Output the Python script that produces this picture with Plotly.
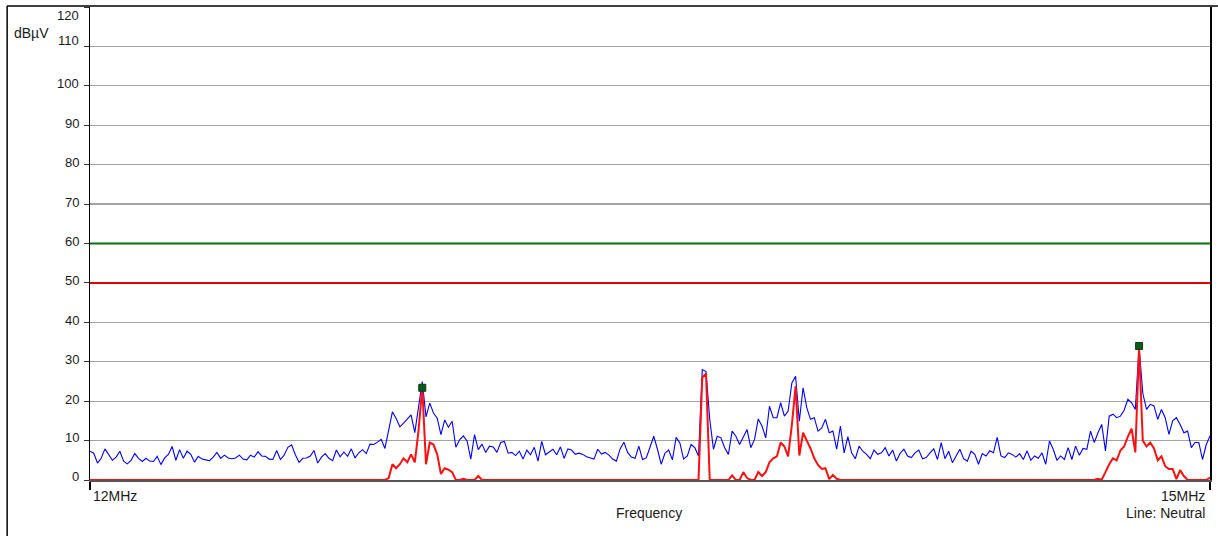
import numpy as np
import plotly.graph_objects as go

# ---------------- data ----------------
f_start_mhz = 12.0
f_stop_mhz = 15.0
n_points = 301

# Peak (blue) trace, dBuV
peak_a = [7.3, 6.8, 4.3, 5.5, 7.9, 6.5, 5.0, 5.8, 7.3, 4.8,
          4.1, 5.0, 6.7, 5.5, 4.7, 5.5, 4.8, 4.7, 6.0, 3.9,
          5.6, 6.5, 8.5, 5.0, 7.7, 5.5, 7.3, 6.5, 4.5, 6.0,
          5.3, 5.1, 4.9, 5.8, 7.0, 5.5, 6.3, 5.6, 5.4, 5.6,
          6.3, 5.3, 5.1, 6.3, 5.8, 7.2, 6.1, 6.0, 5.3, 5.2,
          7.5, 5.2, 6.3, 8.3, 8.9, 6.4, 4.5, 5.5, 5.6, 6.1,
          7.5, 4.3, 5.8, 6.7, 5.5, 4.9, 7.6, 5.9, 7.1, 6.0,
          7.9, 5.6, 6.9, 7.7, 6.7, 9.1, 9.0, 9.6, 10.3, 8.0]
peak_b = [13.0, 17.3, 15.6, 13.5, 14.4, 15.4, 16.5, 12.0, 19.0, 25.0,
          16.0, 19.5, 17.0, 15.7, 11.5, 15.2, 13.4, 14.9, 8.3, 10.2,
          11.2, 9.9, 5.3, 11.5, 7.7, 9.1, 7.0, 8.6, 8.4, 7.0,
          9.5, 9.8, 6.8, 7.0, 6.2, 7.3, 5.3, 7.6, 6.4, 8.3,
          4.8, 9.8, 6.4, 7.0, 7.8, 6.4, 8.4, 5.5, 7.9, 7.6,
          6.5, 6.8, 6.5, 5.9, 5.6, 5.3, 7.8, 6.6, 7.0, 6.3,
          5.3, 4.8, 7.9, 9.6, 7.0, 5.8, 5.5, 8.6, 5.2, 5.6,
          8.3, 11.1, 7.8, 4.0, 6.8, 7.6, 5.1, 10.8, 9.4, 5.3]
peak_c = [6.1, 9.0, 8.2, 6.1, 28.0, 27.5, 15.4, 7.8, 11.1, 10.7,
          8.2, 6.5, 12.4, 11.1, 9.0, 10.7, 12.8, 8.2, 10.3, 15.5,
          13.7, 10.7, 18.7, 15.8, 15.8, 19.6, 16.2, 17.5, 24.6, 26.3,
          14.9, 23.4, 18.3, 15.4, 15.8, 12.4, 13.2, 15.4, 12.0, 12.4,
          7.8, 13.7, 6.9, 11.0, 6.9, 5.4, 8.6, 7.3, 6.5, 5.4,
          7.6, 6.5, 6.9, 8.2, 6.1, 7.6, 4.8, 6.8, 7.8, 6.1,
          5.7, 6.9, 7.6, 5.4, 5.7, 6.9, 7.9, 5.2, 9.5, 5.4,
          7.3, 4.4, 6.1, 7.8, 5.4, 4.8, 7.3, 6.5]
peak_d = [4.0, 6.7, 6.1, 7.4, 6.9, 10.8, 6.1, 5.7, 6.9, 6.5,
          5.8, 6.7, 5.2, 7.4, 5.0, 6.1, 5.5, 6.9, 4.0, 9.9,
          7.8, 5.0, 6.1, 5.2, 8.2, 5.2, 8.6, 6.3, 8.0, 7.8,
          12.4, 9.5, 12.0, 14.1, 7.4, 16.2, 16.7, 15.8, 16.2, 17.7,
          20.5, 19.6, 17.9, 33.8, 22.0, 17.9, 19.2, 18.8, 15.4, 17.9,
          15.8, 11.6, 15.0, 15.8, 14.1, 12.0, 12.4, 8.2, 9.5, 9.5,
          5.2, 9.0, 11.2]

# Average (red) trace, dBuV
avg_a = [0, 0, 0, 0, 0, 0, 0, 0, 0, 0,
         0, 0, 0, 0, 0, 0, 0, 0, 0, 0,
         0, 0, 0, 0, 0, 0, 0, 0, 0, 0,
         0, 0, 0, 0, 0, 0, 0, 0, 0, 0,
         0, 0, 0, 0, 0, 0, 0, 0, 0, 0,
         0, 0, 0, 0, 0, 0, 0, 0, 0, 0,
         0, 0, 0, 0, 0, 0, 0, 0, 0, 0,
         0, 0, 0, 0, 0, 0, 0, 0, 0, 0]
avg_b = [0.5, 4.0, 3.0, 4.0, 5.5, 4.5, 6.5, 4.5, 12.5, 23.5,
         4.0, 9.5, 9.0, 6.5, 1.5, 3.0, 2.6, 2.0, 0, 0,
         0.3, 0, 0, 0, 1.0, 0, 0, 0, 0, 0,
         0, 0, 0, 0, 0, 0, 0, 0, 0, 0,
         0, 0, 0, 0, 0, 0, 0, 0, 0, 0,
         0, 0, 0, 0, 0, 0, 0, 0, 0, 0,
         0, 0, 0, 0, 0, 0, 0, 0, 0, 0,
         0, 0, 0, 0, 0, 0, 0, 0, 0, 0]
avg_c = [0, 0, 0, 0, 26.0, 27.0, 0, 0, 0, 0,
         0, 0, 1.2, 0, 0, 2.0, 0.5, 0, 0, 2.0,
         1.0, 2.0, 4.5, 5.5, 6.0, 9.5, 8.5, 6.0, 14.0, 23.8,
         6.2, 12.0, 10.0, 8.0, 5.5, 3.8, 2.8, 3.0, 0.2, 1.3,
         0.3, 0, 0, 0, 0, 0, 0, 0, 0, 0,
         0, 0, 0, 0, 0, 0, 0, 0, 0, 0,
         0, 0, 0, 0, 0, 0, 0, 0, 0, 0,
         0, 0, 0, 0, 0, 0, 0, 0]
avg_d = [0, 0, 0, 0, 0, 0, 0, 0, 0, 0,
         0, 0, 0, 0, 0, 0, 0, 0, 0, 0,
         0, 0, 0, 0, 0, 0, 0, 0, 0, 0,
         0, 0, 0.3, 0.1, 2.0, 4.0, 5.5, 5.0, 7.5, 8.5,
         11.0, 13.0, 7.0, 33.5, 10.0, 8.5, 9.5, 8.0, 5.0, 6.0,
         3.5, 2.8, 2.8, 0.2, 2.5, 1.0, 0, 0, 0, 0,
         0, 0, 0.6]

# limit lines
limit_freq = [12.0, 15.0]
qp_limit = [60, 60]
avg_limit = [50, 50]

# peak markers
marker_freq = [12.89, 14.81]
marker_level = [23.4, 34.0]

y_ticks = [0, 10, 20, 30, 40, 50, 60, 70, 80, 90, 100, 110, 120]
y_tick_labels = ["0", "10", "20", "30", "40", "50", "60", "70", "80", "90",
                 "100", "110", "120"]

# ---------------- figure ----------------
peak = peak_a + peak_b + peak_c + peak_d
avg = avg_a + avg_b + avg_c + avg_d
freq = np.linspace(f_start_mhz, f_stop_mhz, n_points)

W, H = 1218, 536
L, R, T, B = 90, 1212, 7, 480


def px(x):
    return (x - L) / (R - L)


def py(y):
    return (B - y) / (B - T)


FONT = "Liberation Sans, Arial, Helvetica, sans-serif"
TXT = "#1a1a1a"

fig = go.Figure()
fig.add_trace(go.Scatter(x=freq, y=peak, mode="lines",
                         line=dict(color="#0000ff", width=1.1), hoverinfo="skip"))
fig.add_trace(go.Scatter(x=freq, y=avg, mode="lines",
                         line=dict(color="#ff1010", width=2), hoverinfo="skip"))
fig.add_trace(go.Scatter(x=limit_freq, y=qp_limit, mode="lines",
                         line=dict(color="#0b6e0b", width=2), hoverinfo="skip"))
fig.add_trace(go.Scatter(x=limit_freq, y=avg_limit, mode="lines",
                         line=dict(color="#e00000", width=2), hoverinfo="skip"))
fig.add_trace(go.Scatter(x=marker_freq, y=marker_level, mode="markers",
                         marker=dict(symbol="square", size=7, color="#0a5a1a",
                                     line=dict(color="#083d12", width=1)),
                         hoverinfo="skip"))

fig.update_layout(
    width=W, height=H,
    margin=dict(l=L, r=W - R, t=T, b=H - B),
    paper_bgcolor="white", plot_bgcolor="white",
    showlegend=False,
    font=dict(family=FONT, size=14, color=TXT),
)
fig.update_xaxes(
    range=[f_start_mhz, f_stop_mhz],
    showgrid=False, zeroline=False,
    showline=True, linecolor="#555555", linewidth=2,
    tickvals=[f_start_mhz, f_stop_mhz], ticks="outside", ticklen=8,
    tickcolor="#000000", tickwidth=1.5, showticklabels=False,
)
fig.update_yaxes(
    range=[0, 120],
    tickvals=y_ticks, ticks="outside", ticklen=5, tickcolor="#333333",
    tickwidth=1, showticklabels=False,
    showgrid=True, gridcolor="#a3a3a3", gridwidth=1.3,
    zeroline=False, showline=True, linecolor="#000000", linewidth=1.5,
    mirror=True,
)

# y tick labels placed like the reference (slightly above the grid lines)
label_shift = {0: 4, 10: 3, 110: 6, 120: -8}
for v, lab in zip(y_ticks, y_tick_labels):
    fig.add_annotation(xref="paper", yref="y", x=px(81), y=v, text=lab,
                       showarrow=False, xanchor="right", yanchor="middle",
                       yshift=label_shift.get(v, 2),
                       font=dict(family=FONT, size=13, color=TXT))

# outer frame (left and top)
fig.add_shape(type="line", xref="paper", yref="paper",
              x0=px(7), x1=px(7), y0=py(6), y1=py(540),
              line=dict(color="#000000", width=1.5))
fig.add_shape(type="line", xref="paper", yref="paper",
              x0=px(7), x1=px(1220), y0=py(6), y1=py(6),
              line=dict(color="#000000", width=1.5))

annots = [
    dict(text="dBµV", x=px(12), y=py(33), xanchor="left", yanchor="middle"),
    dict(text=f"{int(f_start_mhz)}MHz", x=px(91), y=py(496), xanchor="left", yanchor="middle"),
    dict(text=f"{int(f_stop_mhz)}MHz", x=px(1209), y=py(496), xanchor="right", yanchor="middle"),
    dict(text="Frequency", x=px(650), y=py(513), xanchor="center", yanchor="middle"),
    dict(text="Line: Neutral", x=px(1209), y=py(513), xanchor="right", yanchor="middle"),
]
for a in annots:
    fig.add_annotation(xref="paper", yref="paper", showarrow=False,
                       font=dict(family=FONT, size=14, color=TXT), **a)

fig.write_html("out.html",
               config={"displayModeBar": False, "staticPlot": True},
               post_script="document.body.style.margin='0';document.body.style.overflow='hidden';")
